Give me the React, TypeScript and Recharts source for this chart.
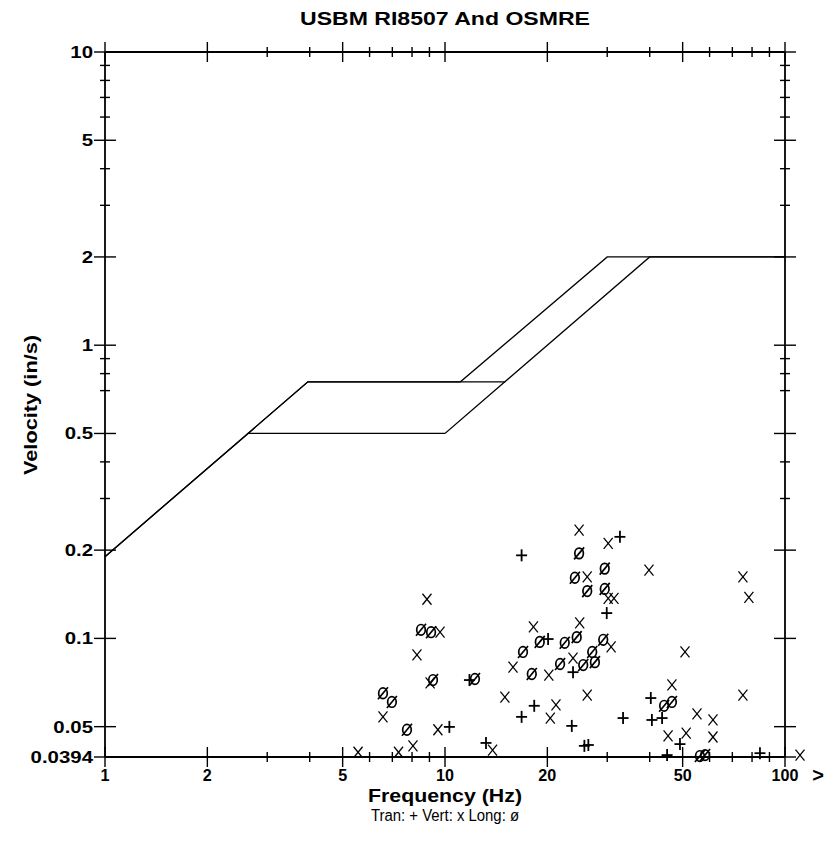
import React from 'react';
import { ScatterChart, Scatter, XAxis, YAxis, ReferenceDot } from 'recharts';

// Limit curves
const osmreF = [1, 3.95, 11.1, 30, 100];
const osmreV = [0.19, 0.75, 0.75, 2, 2];
const usbmF = [1, 3.95, 15, 40, 100];
const usbmV = [0.19, 0.75, 0.75, 2, 2];
const plasterF = [2.63, 10, 15];
const plasterV = [0.5, 0.5, 0.75];

// Transverse (+)
const tranF = [16.8, 32.7, 29.9, 20.1, 23.8, 11.8, 10.3, 18.3, 16.8, 23.6, 33.4, 40.3, 40.6, 43.5, 49.1, 25.7, 26.4, 45.0, 13.2, 84.4];
const tranV = [0.192, 0.222, 0.122, 0.0995, 0.0767, 0.0721, 0.0499, 0.0589, 0.054, 0.0503, 0.0535, 0.0626, 0.0527, 0.0535, 0.0436, 0.043, 0.0433, 0.04, 0.044, 0.0406];

// Vertical (x)
const vertF = [24.8, 30.2, 39.8, 75.2, 78.3, 26.2, 30.2, 31.4, 18.2, 24.9, 30.8, 50.8, 23.8, 20.2, 15.85, 15.0, 26.2, 46.5, 21.2, 20.4, 55.1, 61.4, 45.3, 51.2, 61.4, 75.2, 13.8, 8.85, 9.67, 8.27, 9.04, 6.57, 9.53, 5.55, 7.3, 8.05];
const vertV = [0.234, 0.211, 0.171, 0.162, 0.138, 0.162, 0.137, 0.137, 0.1095, 0.113, 0.0935, 0.0899, 0.0857, 0.075, 0.0798, 0.0631, 0.0641, 0.0694, 0.0593, 0.0535, 0.0553, 0.0527, 0.0465, 0.0475, 0.0461, 0.0641, 0.0416, 0.136, 0.105, 0.0878, 0.0705, 0.054, 0.0488, 0.0409, 0.0409, 0.043];
// Vertical reading above 100 Hz (drawn past the axis)
const vertOverF = 110.7;
const vertOverV = 0.04;

// Longitudinal (ø)
const longF = [24.8, 29.5, 24.1, 26.2, 29.5, 19.0, 22.5, 24.4, 29.2, 16.96, 27.1, 21.8, 25.5, 27.6, 18.0, 44.1, 46.5, 56.2, 58.2, 8.5, 9.1, 9.22, 12.25, 6.57, 6.98, 7.73];
const longV = [0.195, 0.173, 0.161, 0.145, 0.1475, 0.0973, 0.0966, 0.101, 0.0989, 0.0899, 0.0899, 0.0818, 0.0811, 0.083, 0.0756, 0.0589, 0.0607, 0.0397, 0.04, 0.107, 0.105, 0.0721, 0.0727, 0.065, 0.0607, 0.0488];

// Axis ticks
const xTicks = [1, 2, 3, 4, 5, 6, 7, 8, 9, 10, 20, 30, 40, 50, 60, 70, 80, 90, 100];
const xLabels = [1, 2, 5, 10, 20, 50, 100];
const yTicks = [0.0394, 0.05, 0.1, 0.2, 0.3, 0.4, 0.5, 0.7, 0.8, 0.9, 1, 2, 3, 4, 5, 6, 7, 8, 9, 10];
const yLabels = [0.0394, 0.05, 0.1, 0.2, 0.5, 1, 2, 5, 10];

const zip = (f: number[], v: number[]) => f.map((x, i) => ({ f: x, v: v[i] }));

const FONT = '"Liberation Sans", Arial, sans-serif';
const TICK_FS = 17;
const labelWidth = (s: string, stretch: number) => {
  let w = 0;
  for (const ch of s) w += ch === '.' ? 0.278 : 0.556;
  return w * TICK_FS * stretch;
};

const Plus = (p: any) => {
  const { cx, cy } = p;
  if (cx == null || cy == null) return <g />;
  return (
    <g stroke="#000" strokeWidth={1.8}>
      <line x1={cx - 5.5} x2={cx + 5.5} y1={cy} y2={cy} />
      <line x1={cx} x2={cx} y1={cy - 6} y2={cy + 6} />
    </g>
  );
};

const Cross = (p: any) => {
  const { cx, cy } = p;
  if (cx == null || cy == null) return <g />;
  return (
    <g stroke="#000" strokeWidth={1.25}>
      <line x1={cx - 4.5} x2={cx + 4.5} y1={cy - 5.5} y2={cy + 5.5} />
      <line x1={cx + 4.5} x2={cx - 4.5} y1={cy - 5.5} y2={cy + 5.5} />
    </g>
  );
};

const Slash = (p: any) => {
  const { cx, cy } = p;
  if (cx == null || cy == null) return <g />;
  return (
    <g stroke="#000" strokeWidth={1.7} fill="none">
      <ellipse cx={cx} cy={cy} rx={4.3} ry={5.3} />
      <line x1={cx - 5} x2={cx + 5} y1={cy + 6} y2={cy - 6} />
    </g>
  );
};

const NoShape = () => <g />;

const XTick = (top: boolean) => (props: any) => {
  const { x, y, payload } = props;
  const v = payload.value;
  const major = xLabels.includes(v);
  const a = major ? 10 : 5;
  const s = String(v);
  return (
    <g>
      <line x1={x} x2={x} y1={y - a} y2={y + a} stroke="#000" strokeWidth={1.4} />
      {!top && major && (
        <text
          x={x}
          y={y + 24}
          textAnchor="middle"
          fontFamily={FONT}
          fontWeight="bold"
          fontSize={TICK_FS}
          textLength={labelWidth(s, 0.95)}
          lengthAdjust="spacingAndGlyphs"
          fill="#000"
        >
          {s}
        </text>
      )}
    </g>
  );
};

const YTick = (left: boolean) => (props: any) => {
  const { x, y, payload } = props;
  const v = payload.value;
  const major = yLabels.includes(v);
  const a = major ? 11 : 5;
  const s = String(v);
  return (
    <g>
      <line x1={x - a} x2={x + a} y1={y} y2={y} stroke="#000" strokeWidth={1.4} />
      {left && major && (
        <text
          x={x - 12}
          y={y + 6}
          textAnchor="end"
          fontFamily={FONT}
          fontWeight="bold"
          fontSize={TICK_FS}
          textLength={labelWidth(s, 1.2)}
          lengthAdjust="spacingAndGlyphs"
          fill="#000"
        >
          {s}
        </text>
      )}
    </g>
  );
};

export default function App() {
  const W = 819;
  const H = 844;
  return (
    <div style={{ position: 'relative', width: W, height: H, background: '#fff' }}>
      <ScatterChart width={W} height={H} margin={{ top: 43, right: 41, bottom: 94, left: 96 }}>
        <XAxis
          xAxisId="b"
          dataKey="f"
          type="number"
          scale="log"
          domain={[1, 100]}
          ticks={xTicks}
          interval={0}
          height={1}
          tickSize={0}
          tickMargin={0}
          tick={XTick(false)}
          axisLine={{ stroke: '#000', strokeWidth: 1.8 }}
          orientation="bottom"
        />
        <XAxis
          xAxisId="t"
          dataKey="f"
          type="number"
          scale="log"
          domain={[1, 100]}
          ticks={xTicks}
          interval={0}
          height={1}
          tickSize={0}
          tickMargin={0}
          tick={XTick(true)}
          axisLine={{ stroke: '#000', strokeWidth: 1.8 }}
          orientation="top"
        />
        <YAxis
          yAxisId="l"
          dataKey="v"
          type="number"
          scale="log"
          domain={[0.0394, 10]}
          ticks={yTicks}
          interval={0}
          width={1}
          tickSize={0}
          tickMargin={0}
          tick={YTick(true)}
          axisLine={{ stroke: '#000', strokeWidth: 1.8 }}
          orientation="left"
        />
        <YAxis
          yAxisId="r"
          dataKey="v"
          type="number"
          scale="log"
          domain={[0.0394, 10]}
          ticks={yTicks}
          interval={0}
          width={1}
          tickSize={0}
          tickMargin={0}
          tick={YTick(false)}
          axisLine={{ stroke: '#000', strokeWidth: 1.8 }}
          orientation="right"
        />
        <Scatter xAxisId="t" yAxisId="r" data={zip(osmreF, osmreV)} line={{ stroke: '#000', strokeWidth: 1.3 }} shape={NoShape} isAnimationActive={false} />
        <Scatter xAxisId="b" yAxisId="l" data={zip(usbmF, usbmV)} line={{ stroke: '#000', strokeWidth: 1.3 }} shape={NoShape} isAnimationActive={false} />
        <Scatter xAxisId="b" yAxisId="l" data={zip(plasterF, plasterV)} line={{ stroke: '#000', strokeWidth: 1.3 }} shape={NoShape} isAnimationActive={false} />
        <Scatter xAxisId="b" yAxisId="l" data={zip(tranF, tranV)} shape={Plus} isAnimationActive={false} />
        <Scatter xAxisId="b" yAxisId="l" data={zip(vertF, vertV)} shape={Cross} isAnimationActive={false} />
        <Scatter xAxisId="b" yAxisId="l" data={zip(longF, longV)} shape={Slash} isAnimationActive={false} />
        <ReferenceDot xAxisId="b" yAxisId="l" x={vertOverF} y={vertOverV} ifOverflow="visible" shape={Cross} />
      </ScatterChart>
      <svg width={W} height={H} style={{ position: 'absolute', left: 0, top: 0, pointerEvents: 'none' }}>
        <text x={437} y={17} textAnchor="middle" fontFamily={FONT} fontWeight="bold" fontSize={19} textLength={290} lengthAdjust="spacingAndGlyphs" fill="#000">
          USBM RI8507 And OSMRE
        </text>
        <text x={437} y={794} textAnchor="middle" fontFamily={FONT} fontWeight="bold" fontSize={19} textLength={154} lengthAdjust="spacingAndGlyphs" fill="#000">
          Frequency (Hz)
        </text>
        <text x={437} y={813} textAnchor="middle" fontFamily={FONT} fontSize={16} textLength={148} lengthAdjust="spacingAndGlyphs" fill="#000">
          Tran: +  Vert: x  Long: ø
        </text>
        <text x={810} y={774} textAnchor="middle" fontFamily={FONT} fontWeight="bold" fontSize={20} fill="#000">
          &gt;
        </text>
        <text
          transform="translate(29,397) rotate(-90)"
          textAnchor="middle"
          fontFamily={FONT}
          fontWeight="bold"
          fontSize={19}
          textLength={140}
          lengthAdjust="spacingAndGlyphs"
          fill="#000"
        >
          Velocity (in/s)
        </text>
      </svg>
    </div>
  );
}
